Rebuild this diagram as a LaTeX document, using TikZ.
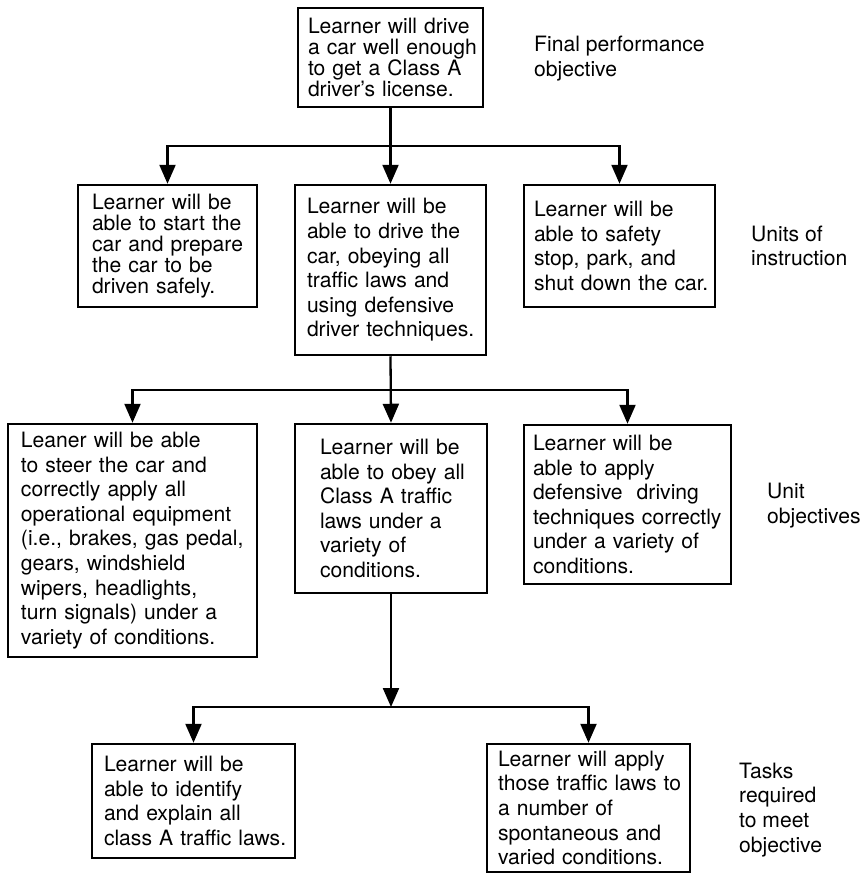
\documentclass[tikz,border=0pt]{standalone}
\usepackage{fontspec}
\setmainfont{TeX Gyre Heros}
\usetikzlibrary{arrows.meta}

\begin{document}
\begin{tikzpicture}[x=1bp, y=-1bp,
  box/.style={draw, line width=2.5bp, align=left, inner ysep=0pt,
    font=\fontsize{21.2}{24.7}\selectfont},
  tight/.style={font=\fontsize{21.2}{20.9}\selectfont},
  note/.style={anchor=base west, align=left, inner sep=0pt,
    font=\fontsize{21.2}{24.7}\selectfont},
  arr/.style={line width=2.3bp, -{Triangle[length=19bp, width=16bp]}}]
\useasboundingbox (0,0) rectangle (865,875);

% final performance objective
\node[box, tight, text width=165bp, inner xsep=10bp,
  minimum height=99bp] (top) at (390.5,57.5)
  {\mbox{Learner will drive}\\\mbox{a car well enough}\\\mbox{to get a Class A}\\\mbox{driver’s license.}};

% units of instruction
\node[box, tight, text width=151bp, inner xsep=14bp, minimum height=122bp] (u1) at (167.5,246)
  {\mbox{Learner will be}\\\mbox{able to start the}\\\mbox{car and prepare}\\\mbox{the car to be}\\\mbox{driven safely.}};
\node[box, text width=167bp, inner xsep=12bp, minimum height=170bp] (u2) at (390.5,270)
  {\mbox{Learner will be}\\\mbox{able to drive the}\\\mbox{car, obeying all}\\\mbox{traffic laws and}\\\mbox{using defensive}\\\mbox{driver techniques.}};
\node[box, text width=171bp, inner xsep=10bp, minimum height=122bp] (u3) at (619.5,246)
  {\mbox{Learner will be}\\\mbox{able to safety}\\\mbox{stop, park, and}\\\mbox{shut down the car.}};

% unit objectives
\node[box, text width=223bp, inner xsep=13bp, minimum height=233bp] (o1) at (132.5,540.5)
  {\mbox{Leaner will be able}\\\mbox{to steer the car and}\\\mbox{correctly apply all}\\\mbox{operational equipment}\\\mbox{(i.e., brakes, gas pedal,}\\\mbox{gears, windshield}\\\mbox{wipers, headlights,}\\\mbox{turn signals) under a}\\\mbox{variety of conditions.}};
\node[box, text width=142bp, inner xsep=25bp, minimum height=169bp] (o2) at (391,508.5)
  {\mbox{Learner will be}\\\mbox{able to obey all}\\\mbox{Class A traffic}\\\mbox{laws under a}\\\mbox{variety of}\\\mbox{conditions.}};
\node[box, text width=189bp, inner xsep=9bp, minimum height=159bp] (o3) at (627.5,504.5)
  {\mbox{Learner will be}\\\mbox{able to apply}\\\mbox{defensive\ \ driving}\\\mbox{techniques correctly}\\\mbox{under a variety of}\\\mbox{conditions.}};

% tasks
\node[box, text width=179bp, inner xsep=12bp, minimum height=114bp] (t1) at (193.5,801)
  {\mbox{Learner will be}\\\mbox{able to identify}\\\mbox{and explain all}\\\mbox{class A traffic laws.}};
\node[box, text width=181bp, inner xsep=11bp, minimum height=128bp] (t2) at (588.5,808)
  {\mbox{Learner will apply}\\\mbox{those traffic laws to}\\\mbox{a number of}\\\mbox{spontaneous and}\\\mbox{varied conditions.}};

% level captions (placed by the baseline of their last line)
\node[note] (cap1) at (534,76.5) {Final performance\\objective};
\node[note] (cap2) at (751,265.7) {Units of\\instruction};
\node[note] (cap3) at (767,523) {Unit\\objectives};
\node[note] (cap4) at (739,852) {Tasks\\required\\to meet\\objective};

% branching connectors
\coordinate (j1) at (390.5,146);
\coordinate (j2) at (390.5,390);
\coordinate (j3) at (391,707);

\draw[arr] (top.south) -- (u2.north);
\draw[arr] (j1) -| (u1.north);
\draw[arr] (j1) -| (u3.north);

\draw[arr] (u2.south) -- (o2.north);
\draw[arr] (j2) -| (o1.north);
\draw[arr] (j2) -| (o3.north);

\draw[arr] (o2.south) -- (j3);
\draw[arr] (j3) -| (t1.north);
\draw[arr] (j3) -| (t2.north);
\end{tikzpicture}
\end{document}
